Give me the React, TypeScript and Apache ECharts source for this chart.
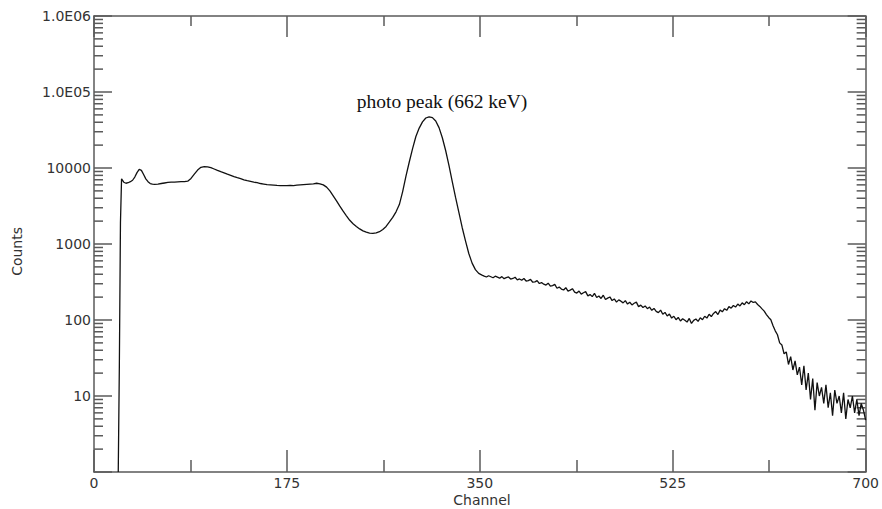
import React, { useEffect, useRef } from "react";
import * as echarts from "echarts";

const channels = [
  22, 23, 24, 25, 27, 29, 31, 33, 35, 37, 39, 41, 43, 45, 47, 49, 51, 53, 55, 58,
  61, 64, 67, 70, 73, 76, 79, 82, 85, 88, 91, 94, 97, 100, 103, 106, 109, 112, 115, 118,
  121, 124, 127, 130, 133, 136, 139, 142, 145, 148, 151, 154, 157, 160, 163, 166, 169, 172, 175, 178,
  181, 184, 187, 190, 193, 196, 199, 202, 205, 208, 211, 214, 217, 220, 223, 226, 229, 232, 235, 238,
  241, 244, 247, 250, 253, 256, 259, 262, 265, 268, 271, 274, 277, 280, 283, 286, 289, 292, 295, 298,
  301, 304, 307, 310, 313, 316, 319, 322, 325, 328, 331, 334, 337, 340, 343, 346, 349, 352, 354,
  356, 358, 360, 362, 364, 366, 368, 370, 372, 374, 376, 378, 380, 382, 384, 386, 388, 390, 392, 394,
  396, 398, 400, 402, 404, 406, 408, 410, 412, 414, 416, 418, 420, 422, 424, 426, 428, 430, 432, 434,
  436, 438, 440, 442, 444, 446, 448, 450, 452, 454, 456, 458, 460, 462, 464, 466, 468, 470, 472, 474,
  476, 478, 480, 482, 484, 486, 488, 490, 492, 494, 496, 498, 500, 502, 504, 506, 508, 510, 512, 514,
  516, 518, 520, 522, 524, 526, 528, 530, 532, 534, 536, 538, 540, 542, 544, 546, 548, 550, 552, 554,
  556, 558, 560, 562, 564, 566, 568, 570, 572, 574, 576, 578, 580, 582, 584, 586, 588, 590, 592, 594,
  596, 598, 600, 602, 604, 606, 608, 610, 612, 614, 616, 618, 620, 622, 624, 626, 628, 630, 632, 634,
  636, 638, 640, 642, 644, 646, 648, 650, 652, 654, 656, 658, 660, 662, 664, 666, 668, 670, 672, 674,
  676, 678, 680, 682, 684, 686, 688, 690, 692, 694, 696, 698, 700,
];

const counts = [
  1, 25, 1900, 7200, 6500, 6300, 6400, 6600, 6900, 7600, 8700, 9600, 9300, 8200, 7200, 6600, 6250, 6150, 6100, 6150,
  6250, 6350, 6450, 6500, 6500, 6550, 6600, 6600, 6700, 7300, 8300, 9400, 10200, 10400, 10350, 10100, 9700, 9300, 8950, 8650,
  8300, 8000, 7700, 7450, 7250, 7000, 6800, 6650, 6500, 6400, 6250, 6150, 6050, 6000, 5950, 5900, 5880, 5850, 5870, 5900,
  5880, 5950, 6000, 6050, 6100, 6150, 6200, 6300, 6200, 6000, 5600, 5000, 4300, 3700, 3150, 2700, 2350, 2050, 1850, 1700,
  1580, 1490, 1430, 1390, 1380, 1400, 1450, 1550, 1700, 1950, 2240, 2650, 3300, 4900, 7800, 12000, 18000, 26000, 33500, 40500,
  45500, 47200, 46000, 41500, 34000, 25000, 17000, 10800, 6600, 4100, 2600, 1650, 1100, 750, 560, 460, 410, 390, 378,
  368, 382, 371, 360, 377, 366, 355, 372, 350, 361, 368, 346, 352, 365, 338, 347, 333, 351, 326, 330,
  342, 314, 318, 330, 302, 311, 296, 288, 305, 279, 283, 294, 262, 271, 255, 248, 266, 240, 247, 258,
  233, 226, 240, 219, 228, 236, 208, 216, 203, 224, 198, 207, 192, 212, 186, 194, 201, 180, 189, 172,
  184, 177, 168, 180, 162, 171, 158, 166, 172, 150, 157, 146, 153, 141, 148, 134, 142, 130, 125, 135,
  119, 126, 113, 120, 106, 112, 101, 108, 97, 104, 99, 94, 105, 90, 99, 103, 96, 107, 101, 112,
  106, 119, 111, 122, 129, 118, 135, 128, 141, 134, 150, 143, 155, 148, 162, 153, 168, 159, 174, 163,
  178, 170, 173, 160, 151, 140, 131, 118, 108, 101, 84, 72, 64, 50, 47, 36, 38, 26, 33, 22,
  29, 19, 24, 14, 25, 12, 20, 9, 17, 6.5, 15, 10, 13, 8, 14, 7, 11, 5.5, 12, 8,
  10, 6, 11, 5, 9, 7, 10, 6, 9, 5.5, 8, 6.5, 4.8,
];

const xTicks = ["0", "175", "350", "525", "700"];
const yMinorMultipliers = [2, 3, 4, 5, 6, 7, 8, 9];
const yDecades = [1, 10, 100, 1000, 10000, 100000];

const AXIS_COLOR = "#5a5a5a";
const LABEL_FONT = "DejaVu Sans";

export default function App() {
  const ref = useRef<HTMLDivElement>(null);

  useEffect(() => {
    if (!ref.current) return;
    const chart = echarts.init(ref.current, null, { renderer: "svg" });
    const minorVals: number[] = [];
    yDecades.forEach((d) => yMinorMultipliers.forEach((m) => minorVals.push(d * m)));

    const yLabel = (v: number) => {
      if (v < 2) return "";
      if (v >= 100000) return "1.0E0" + Math.round(Math.log10(v));
      return String(Math.round(v));
    };

    chart.setOption({
      animation: false,
      backgroundColor: "#ffffff",
      grid: { left: 94, right: 9, top: 16, bottom: 37, containLabel: false },
      xAxis: [
        {
          type: "value",
          min: 0,
          max: 700,
          interval: 175,
          position: "bottom",
          axisLine: { show: true, onZero: false, lineStyle: { color: AXIS_COLOR, width: 1.5 } },
          axisTick: { show: true, inside: true, length: 22, lineStyle: { color: AXIS_COLOR, width: 1.5 } },
          minorTick: { show: true, splitNumber: 2, length: 12, lineStyle: { color: AXIS_COLOR, width: 1.5 } },
          axisLabel: {
            show: true,
            margin: 4,
            fontFamily: LABEL_FONT,
            fontSize: 14,
            color: "#333",
            formatter: (v: number) => (xTicks.indexOf(String(v)) >= 0 ? String(v) : ""),
          },
          splitLine: { show: false },
        },
        {
          type: "value",
          min: 0,
          max: 700,
          interval: 175,
          position: "top",
          axisLine: { show: true, onZero: false, lineStyle: { color: AXIS_COLOR, width: 1.5 } },
          axisTick: { show: true, inside: true, length: 21, lineStyle: { color: AXIS_COLOR, width: 1.5 } },
          minorTick: { show: true, splitNumber: 2, length: 10, lineStyle: { color: AXIS_COLOR, width: 1.5 } },
          axisLabel: { show: false },
          splitLine: { show: false },
        },
      ],
      yAxis: [
        {
          type: "log",
          logBase: 10,
          min: 1,
          max: 1000000,
          position: "left",
          axisLine: { show: true, onZero: false, lineStyle: { color: AXIS_COLOR, width: 1.5 } },
          axisTick: { show: true, inside: true, length: 18, lineStyle: { color: AXIS_COLOR, width: 1.5 } },
          axisLabel: {
            show: true,
            margin: 3,
            fontFamily: LABEL_FONT,
            fontSize: 14,
            color: "#333",
            formatter: yLabel,
          },
          splitLine: { show: false },
        },
        {
          type: "log",
          logBase: 10,
          min: 1,
          max: 1000000,
          position: "right",
          axisLine: { show: true, onZero: false, lineStyle: { color: AXIS_COLOR, width: 1.5 } },
          axisTick: { show: true, inside: true, length: 18, lineStyle: { color: AXIS_COLOR, width: 1.5 } },
          axisLabel: { show: false },
          splitLine: { show: false },
        },
      ],
      graphic: [
        {
          type: "text",
          left: 10,
          top: 227,
          rotation: Math.PI / 2,
          style: {
            text: "Counts",
            fontFamily: LABEL_FONT,
            fontSize: 14,
            fill: "#333",
          },
        },
        {
          type: "text",
          x: 482,
          y: 500,
          style: {
            text: "Channel",
            fontFamily: LABEL_FONT,
            fontSize: 14,
            fill: "#333",
            align: "center",
            verticalAlign: "middle",
          },
        },
        {
          type: "text",
          x: 442,
          y: 101,
          style: {
            text: "photo peak (662 keV)",
            fontFamily: "Liberation Serif",
            fontSize: 19.5,
            fill: "#111",
            align: "center",
            verticalAlign: "middle",
          },
        },
      ],
      series: [
        {
          type: "line",
          xAxisIndex: 0,
          yAxisIndex: 0,
          data: channels.map((c, i) => [c, counts[i]]),
          showSymbol: false,
          symbol: "none",
          lineStyle: { color: "#111", width: 1.3 },
          silent: true,
        },
        {
          type: "custom",
          xAxisIndex: 0,
          yAxisIndex: 0,
          silent: true,
          clip: false,
          data: minorVals.map((v) => [0, v]),
          renderItem: (_params: any, api: any) => {
            const v = api.value(1);
            const l = api.coord([0, v]);
            const r = api.coord([700, v]);
            const style = { stroke: AXIS_COLOR, lineWidth: 1.5 };
            return {
              type: "group",
              children: [
                { type: "line", shape: { x1: l[0], y1: l[1], x2: l[0] + 9, y2: l[1] }, style },
                { type: "line", shape: { x1: r[0] - 9, y1: r[1], x2: r[0], y2: r[1] }, style },
              ],
            };
          },
        },
      ],
    });
    return () => chart.dispose();
  }, []);

  return (
    <div
      ref={ref}
      style={{ position: "fixed", left: 0, top: 0, width: 882, height: 509, background: "#fff" }}
    />
  );
}
